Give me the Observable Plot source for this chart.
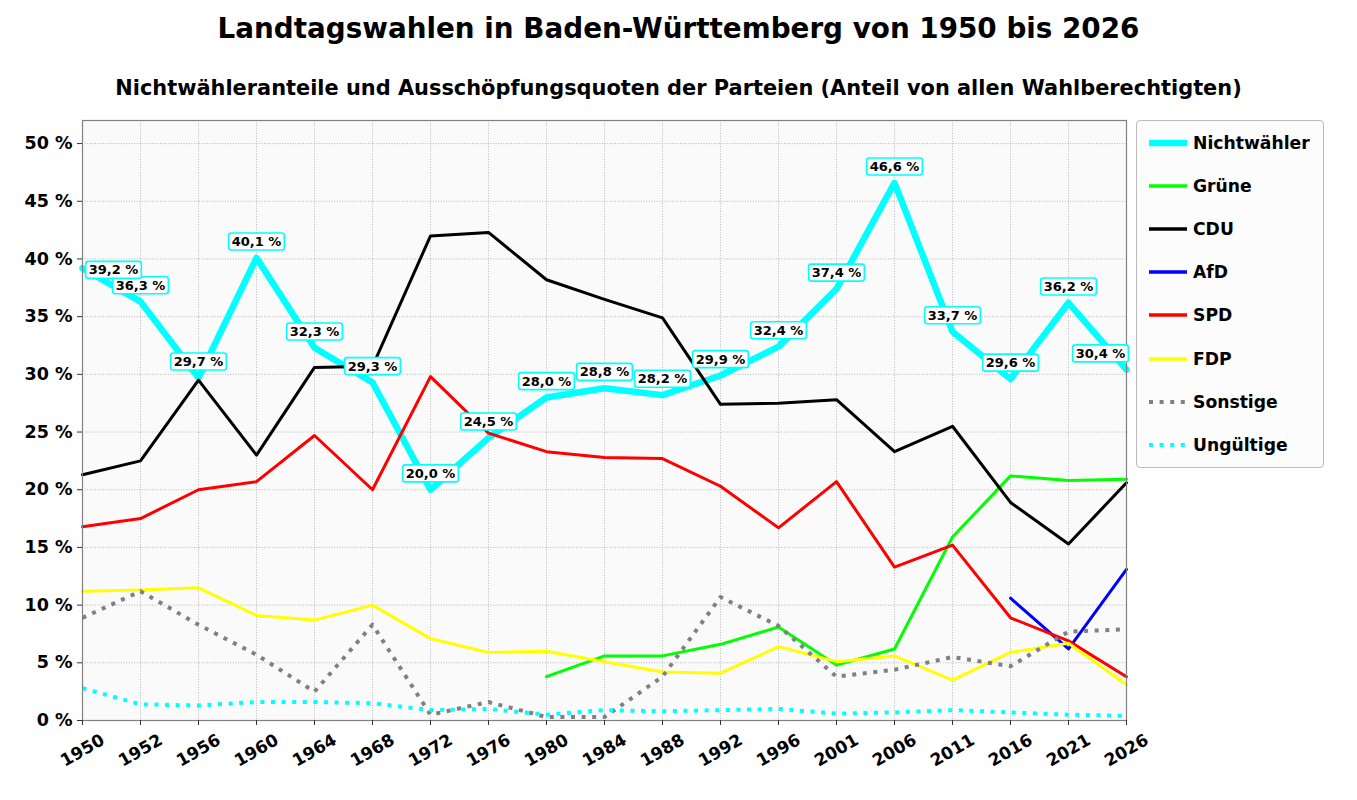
<!DOCTYPE html>
<html><head><meta charset="utf-8">
<script src="https://cdn.jsdelivr.net/npm/d3@7"></script>
<script src="https://cdn.jsdelivr.net/npm/@observablehq/plot@0.6"></script>
<style>
body{margin:0;background:#fff;font-family:"DejaVu Sans",sans-serif;color:#000}
#wrap{position:relative;width:1357px;height:800px;overflow:hidden}
#title{position:absolute;left:0;width:1357px;top:12px;text-align:center;font-weight:bold;font-size:27.8px;line-height:34px}
#subtitle{position:absolute;left:0;width:1357px;top:74px;text-align:center;font-weight:bold;font-size:20.9px;line-height:28px}
#chart{position:absolute;left:0;top:100px}
#legend{position:absolute;left:1136px;top:120px;width:186px;height:346px;border:1px solid #bbb;border-radius:4px;background:#fcfcfc;box-sizing:content-box}
.li{position:absolute;left:10px;height:24px;display:flex;align-items:center;font-weight:bold;font-size:17.2px}
.li svg{margin-right:2px}
</style>
</head><body>
<div id="wrap">
  <div id="title">Landtagswahlen in Baden-Württemberg von 1950 bis 2026</div>
  <div id="subtitle">Nichtwähleranteile und Ausschöpfungsquoten der Parteien (Anteil von allen Wahlberechtigten)</div>
  <div id="chart"></div>
  <div id="legend"></div>
</div>
<script>
const years = ["1950","1952","1956","1960","1964","1968","1972","1976","1980","1984","1988","1992","1996","2001","2006","2011","2016","2021","2026"];
const nichtwaehler = [39.2,36.3,29.7,40.1,32.3,29.3,20.0,24.5,28.0,28.8,28.2,29.9,32.4,37.4,46.6,33.7,29.6,36.2,30.4];
const gruene = [null,null,null,null,null,null,null,null,3.8,5.6,5.6,6.6,8.1,4.8,6.2,15.9,21.2,20.8,20.9];
const cdu = [21.3,22.5,29.5,23.0,30.6,30.7,42.0,42.3,38.2,36.5,34.9,27.4,27.5,27.8,23.3,25.5,18.9,15.3,20.6];
const afd = [null,null,null,null,null,null,null,null,null,null,null,null,null,null,null,null,10.6,6.2,13.1];
const spd = [16.8,17.5,20.0,20.7,24.7,20.0,29.8,24.9,23.3,22.8,22.7,20.3,16.7,20.7,13.3,15.2,8.9,6.9,3.8];
const fdp = [11.2,11.3,11.5,9.1,8.7,10.0,7.1,5.9,6.0,5.1,4.2,4.1,6.4,5.1,5.6,3.5,5.9,6.7,3.1];
const sonstige = [8.9,11.2,8.3,5.7,2.5,8.3,0.5,1.6,0.3,0.3,3.8,10.7,8.2,3.8,4.4,5.5,4.7,7.7,7.9];
const ungueltige = [2.8,1.4,1.3,1.6,1.6,1.5,0.9,1.0,0.5,0.9,0.8,0.9,1.0,0.6,0.7,0.9,0.7,0.5,0.4];
const yTicks = [0,5,10,15,20,25,30,35,40,45,50];

const seriesDefs = [
  {name:"Nichtwähler", values:nichtwaehler, color:"#00ffff", width:6.5, dash:null},
  {name:"Grüne", values:gruene, color:"#00ff00", width:3, dash:null},
  {name:"CDU", values:cdu, color:"#000000", width:3, dash:null},
  {name:"AfD", values:afd, color:"#0000ff", width:3, dash:null},
  {name:"SPD", values:spd, color:"#ff0000", width:3, dash:null},
  {name:"FDP", values:fdp, color:"#ffff00", width:3, dash:null},
  {name:"Sonstige", values:sonstige, color:"#808080", width:4, dash:"4,6.6"},
  {name:"Ungültige", values:ungueltige, color:"#00ffff", width:4, dash:"4,6.6"}
];

const rows = s => years.map((yr,i)=>({year:yr, v:s.values[i]})).filter(d=>d.v!=null);
const fmt = v => v.toFixed(1).replace(".", ",") + " %";
const n = years.length;
const labelData = years.map((yr,i)=>({year:yr, v:nichtwaehler[i], i}));
const firstLab = labelData.filter(d=>d.i===0);
const lastLab = labelData.filter(d=>d.i===n-1);
const midLab = labelData.filter(d=>d.i>0 && d.i<n-1);

const lineMarks = seriesDefs.map(s => Plot.line(rows(s), {
  x:"year", y:"v", stroke:s.color, strokeWidth:s.width,
  strokeDasharray: s.dash || undefined, strokeLinecap: s.dash ? "butt" : "round", strokeLinejoin:"round"
}));

const labOpts = (dx, dy) => ({
  x:"year", y:"v", text:d=>fmt(d.v), dx, dy,
  fontSize:13, fontWeight:"bold", fill:"#000", lineAnchor:"middle", textAnchor:"middle",
  className:"nwlab"
});

const chart = Plot.plot({
  width:1357, height:700,
  marginLeft:82, marginRight:231, marginTop:20, marginBottom:80,
  style:{fontFamily:"DejaVu Sans", background:"transparent", color:"#000"},
  x:{type:"point", domain:years, padding:0, label:null},
  y:{domain:[0,52], label:null},
  marks:[
    Plot.frame({fill:"#fafafa", stroke:null}),
    Plot.gridY(yTicks, {stroke:"#b0b0b0", strokeOpacity:1, strokeWidth:0.9, strokeDasharray:"1,1.6"}),
    Plot.gridX(years, {stroke:"#b0b0b0", strokeOpacity:1, strokeWidth:0.9, strokeDasharray:"1,1.6"}),
    ...lineMarks,
    Plot.frame({stroke:"#808080", strokeWidth:1.2}),
    Plot.axisY({ticks:yTicks, tickFormat:d=>`${d} %`, tickSize:5, tickPadding:5, fontSize:17.5, fontWeight:"bold", stroke:"#333", label:null}),
    Plot.axisX({tickSize:5, tickFormat:()=>"", stroke:"#333", label:null}),
    Plot.text(years, {x:d=>d, frameAnchor:"bottom", dy:30, rotate:-30, textAnchor:"middle", lineAnchor:"middle", fontSize:17, fontWeight:"bold", fill:"#000"}),
    Plot.text(midLab, labOpts(0, -16)),
    Plot.text(firstLab, labOpts(31, 2)),
    Plot.text(lastLab, labOpts(-26, -16))
  ]
});
document.getElementById("chart").appendChild(chart);

// white boxes with cyan border behind the Nichtwähler labels
document.querySelectorAll(".nwlab text").forEach(t => {
  const b = t.getBBox();
  const r = document.createElementNS("http://www.w3.org/2000/svg","rect");
  r.setAttribute("x", b.x-3); r.setAttribute("y", b.y-1);
  r.setAttribute("width", b.width+6); r.setAttribute("height", b.height+2);
  r.setAttribute("rx", 2.5);
  r.setAttribute("fill", "#fff"); r.setAttribute("stroke", "#00ffff"); r.setAttribute("stroke-width", 1.6);
  const tr = t.getAttribute("transform"); if (tr) r.setAttribute("transform", tr);
  t.parentNode.insertBefore(r, t);
});

// legend
const leg = document.getElementById("legend");
seriesDefs.forEach((s,i) => {
  const d = document.createElement("div");
  d.className = "li";
  d.style.top = (10 + i*43.1) + "px";
  const sw = s.name==="Nichtwähler" ? 6.5 : (s.dash ? 4 : 3.5);
  d.innerHTML = `<svg width="44" height="12"><line x1="2" y1="6" x2="40" y2="6" stroke="${s.color}" stroke-width="${sw}" ${s.dash?`stroke-dasharray="${s.dash}"`:""}/></svg><span>${s.name}</span>`;
  leg.appendChild(d);
});
</script>
</body></html>
